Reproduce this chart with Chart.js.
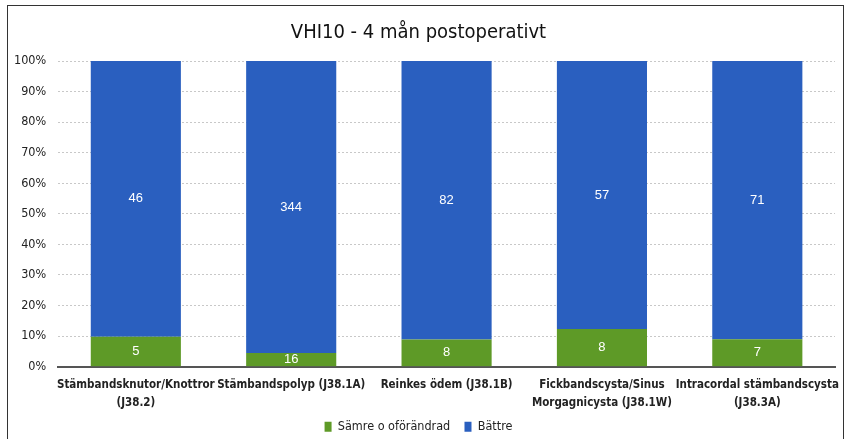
<!DOCTYPE html>
<html lang="sv">
<head>
    <meta charset="UTF-8">
    <title>VHI10 - 4 mån postoperativt</title>
    <script src="https://cdn.jsdelivr.net/npm/chart.js"></script>
    <style>
        html, body { margin: 0; padding: 0; background: #fff; }
        .frame {
            position: absolute; left: 7px; top: 5px; width: 837px; height: 440px;
            border: 1.5px solid #333; border-bottom: none; box-sizing: border-box;
        }
        .chart-box { position: absolute; left: 0; top: 0; width: 851px; height: 439px; }
    </style>
</head>
<body>
    <div class="frame"></div>
    <div class="chart-box">
        <canvas id="myChart"></canvas>
    </div>

    <script>
        // categories and counts
        const categories = [
            ["Stämbandsknutor/Knottror", "(J38.2)"],
            "Stämbandspolyp (J38.1A)",
            "Reinkes ödem (J38.1B)",
            ["Fickbandscysta/Sinus", "Morgagnicysta (J38.1W)"],
            ["Intracordal stämbandscysta", "(J38.3A)"]
        ];
        const samreCounts = [5, 16, 8, 8, 7];
        const battreCounts = [46, 344, 82, 57, 71];
        const yTicks = [0, 10, 20, 30, 40, 50, 60, 70, 80, 90, 100];

        // 100% stacked: share of each group
        const totals = samreCounts.map((v, i) => v + battreCounts[i]);
        const samrePct = samreCounts.map((v, i) => v / totals[i] * 100);
        const battrePct = battreCounts.map((v, i) => v / totals[i] * 100);

        const font = "'DejaVu Sans Condensed', 'Liberation Sans', Arial, sans-serif";

        // write the count in the middle of each bar segment
        const countLabels = {
            id: 'countLabels',
            afterLayout(chart) {
                // nudge the legend a bit lower without shrinking the plot
                chart.legend.top += 4;
                chart.legend.bottom += 4;
            },
            afterDatasetsDraw(chart) {
                const ctx = chart.ctx;
                ctx.save();
                ctx.fillStyle = '#ffffff';
                ctx.font = "13px 'Liberation Sans', Arial, sans-serif";
                ctx.textAlign = 'center';
                ctx.textBaseline = 'middle';
                chart.data.datasets.forEach((ds, di) => {
                    chart.getDatasetMeta(di).data.forEach((bar, i) => {
                        const y = (bar.y + bar.base) / 2;
                        ctx.fillText(ds.counts[i], bar.x, y);
                    });
                });
                ctx.restore();
            }
        };

        new Chart("myChart", {
            type: "bar",
            data: {
                labels: categories,
                datasets: [
                    {
                        label: "Sämre o oförändrad",
                        data: samrePct,
                        counts: samreCounts,
                        backgroundColor: "#5e9a27",
                        barPercentage: 0.58,
                        categoryPercentage: 1.0
                    },
                    {
                        label: "Bättre",
                        data: battrePct,
                        counts: battreCounts,
                        backgroundColor: "#2a5fbf",
                        barPercentage: 0.58,
                        categoryPercentage: 1.0
                    }
                ]
            },
            options: {
                responsive: true,
                maintainAspectRatio: false,
                animation: false,
                layout: { padding: { left: 2, right: 16, top: 6, bottom: 0 } },
                plugins: {
                    title: {
                        display: true,
                        text: "VHI10 - 4 mån postoperativt",
                        color: "#111",
                        font: { family: font, size: 20, weight: 'normal' },
                        padding: { top: 15, bottom: 16 }
                    },
                    legend: {
                        position: 'bottom',
                        labels: {
                            color: "#222",
                            font: { family: font, size: 12.5 },
                            boxWidth: 7,
                            boxHeight: 10,
                            padding: 3,
                            generateLabels(chart) {
                                const items = Chart.defaults.plugins.legend.labels.generateLabels(chart);
                                // extra gap after the first entry
                                items[0].text = items[0].text + '\u2003';
                                return items;
                            }
                        }
                    },
                    tooltip: { enabled: false }
                },
                scales: {
                    x: {
                        stacked: true,
                        grid: { display: false },
                        border: { color: "#555", width: 2 },
                        ticks: {
                            color: "#222",
                            maxRotation: 0,
                            autoSkip: false,
                            padding: 1,
                            font: { family: font, size: 11.5, weight: 'bold', lineHeight: 1.6 }
                        }
                    },
                    y: {
                        stacked: true,
                        min: 0,
                        max: 100,
                        afterBuildTicks(axis) {
                            axis.ticks = yTicks.map(v => ({ value: v }));
                        },
                        border: { display: false, dash: [2, 2] },
                        grid: { color: "#c8c8c8", drawTicks: false },
                        ticks: {
                            color: "#222",
                            padding: 12,
                            font: { family: font, size: 12.5 },
                            callback: v => v + "%"
                        }
                    }
                }
            },
            plugins: [countLabels]
        });
    </script>
</body>
</html>
